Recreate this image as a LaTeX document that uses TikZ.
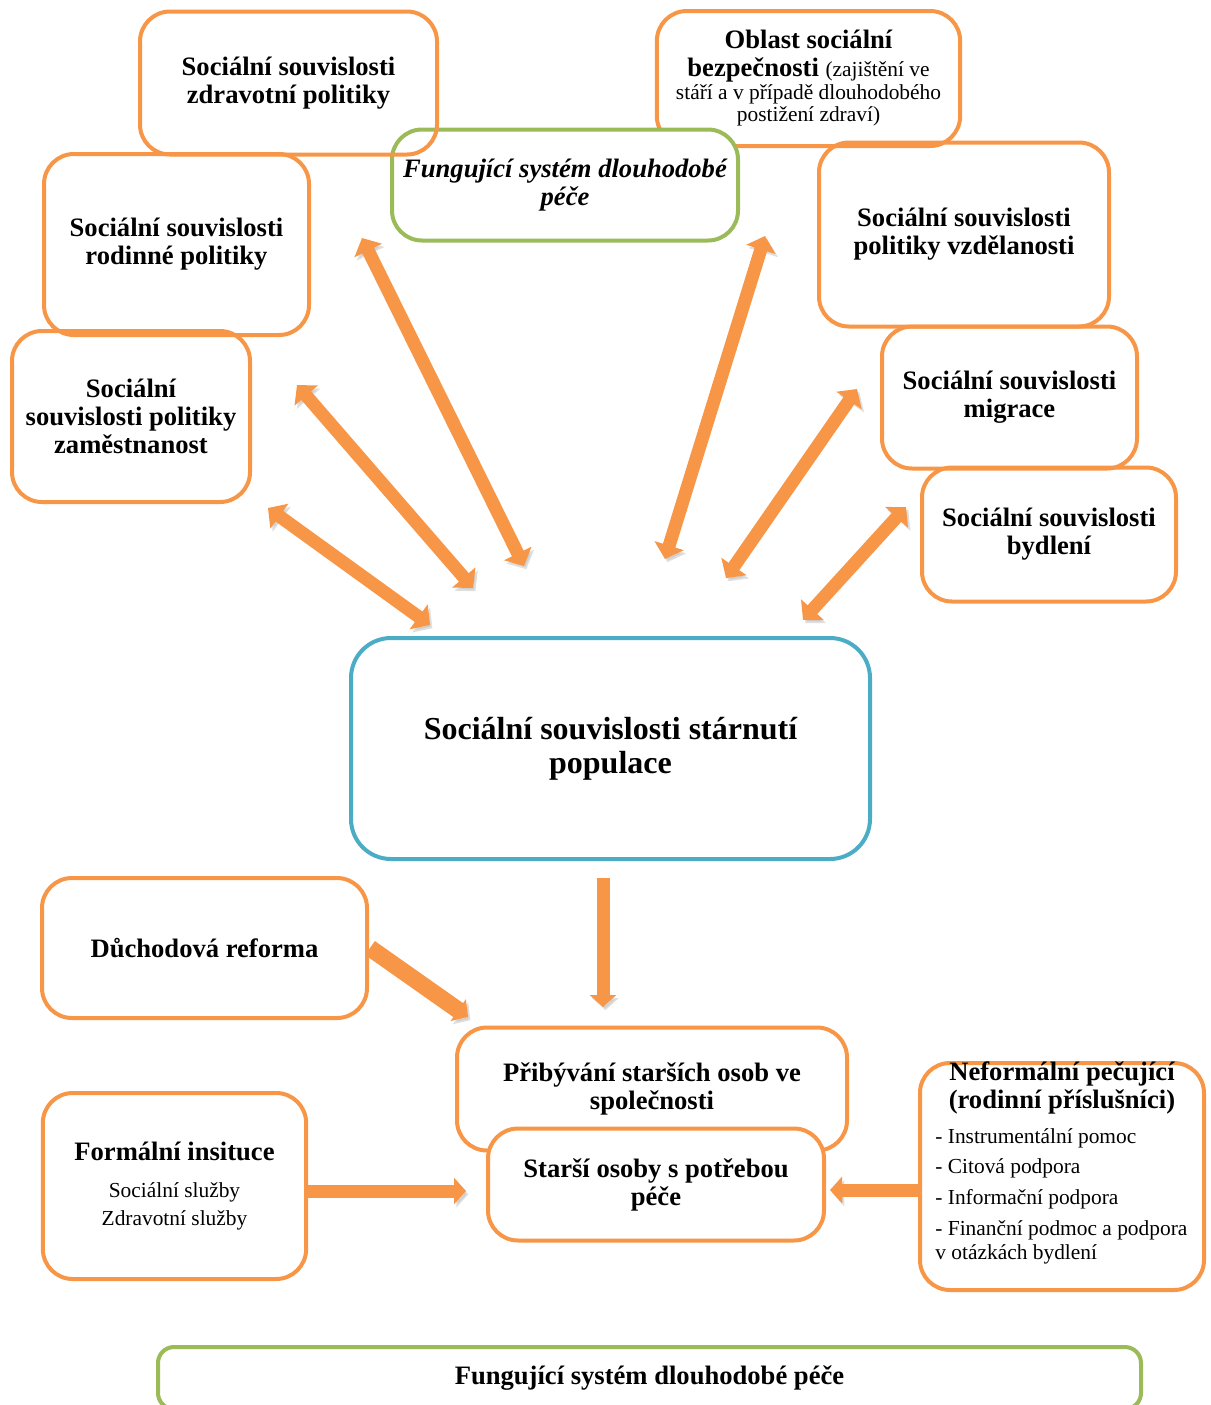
\documentclass[tikz,border=0pt]{standalone}
\usepackage{fontspec}
\setmainfont{Liberation Serif}
\usetikzlibrary{arrows.meta}
\definecolor{boxorange}{HTML}{F79646}
\definecolor{boxgreen}{HTML}{9BBB59}
\definecolor{boxblue}{HTML}{4BACC6}
\newcommand{\smallreg}{\fontsize{10.7}{11.5}\selectfont\mdseries}
\begin{document}
\begin{tikzpicture}[x=0.5pt, y=-0.5pt,
  box/.style={draw=boxorange, line width=2pt, rounded corners=15pt, align=flush center, font=\fontsize{13.3}{14}\selectfont\bfseries},
  gbox/.style={box, draw=boxgreen, fill=white},
  shd/.style={preaction={draw=black!25, opacity=.5, transform canvas={shift={(1.2pt,-1.6pt)}}}},
  dbl/.style={shd, draw=boxorange, line width=6.5pt, {Triangle[length=7pt,width=15pt]}-{Triangle[length=7pt,width=15pt]}},
  one/.style={shd, draw=boxorange, line width=6.5pt, -{Triangle[length=6pt,width=13pt]}}]
\useasboundingbox (0,0) rectangle (1211,1405);

\node[box, minimum width=151.5pt, minimum height=67.5pt, text width=145pt] (obl) at (808.5,78.5)
  {\lineskiplimit=-5pt Oblast sociální\\[2.5pt] bezpečnosti \smallreg(zajištění ve\\ stáří a v případě dlouhodobého\\[-3pt] postižení zdraví)};
\node[gbox, minimum width=173pt, minimum height=55.5pt, font=\fontsize{13.3}{14}\selectfont\bfseries\itshape] (fun) at (565,185) {Fungující systém dlouhodobé\\péče};
\node[box, minimum width=148.5pt, minimum height=71.5pt] (zdr) at (288.5,83) {Sociální souvislosti\\zdravotní politiky};
\node[box, minimum width=132.5pt, minimum height=90.5pt] (rod) at (176.5,244.5) {Sociální souvislosti\\rodinné politiky};
\node[box, minimum width=119pt, minimum height=85.5pt] (zam) at (131,416.5) {Sociální\\souvislosti politiky\\zaměstnanost};
\node[box, minimum width=145pt, minimum height=92pt] (vzd) at (964,234.5) {Sociální souvislosti\\politiky vzdělanosti};
\node[box, minimum width=127.5pt, minimum height=71pt] (mig) at (1009.5,397.5) {Sociální souvislosti\\migrace};
\node[box, minimum width=127pt, minimum height=67pt] (byd) at (1049,534.5) {Sociální souvislosti\\bydlení};

\node[box, draw=boxblue, rounded corners=20pt, minimum width=259.5pt, minimum height=110.5pt, font=\fontsize{16}{17}\selectfont\bfseries] (soc) at (610.5,748.5) {Sociální souvislosti stárnutí\\populace};

\node[box, minimum width=162.5pt, minimum height=70pt] (duch) at (204.5,948) {Důchodová reforma};
\node[box, minimum width=195pt, minimum height=61.5pt] (prib) at (652,1089) {Přibývání starších osob ve\\společnosti};
\node[box, fill=white, minimum width=168pt, minimum height=56pt] (star) at (656,1184.5) {Starší osoby s potřebou\\péče};
\node[box, minimum width=131.5pt, minimum height=93pt, text width=125pt] (form) at (174.5,1186)
  {Formální insituce\\[3pt] \fontsize{10.7}{15.5}\selectfont\mdseries Sociální služby\\ Zdravotní služby};
\node[box, minimum width=142pt, minimum height=113.5pt] (nef) at (1062,1176.5) {};
\node[align=flush center, font=\fontsize{13.3}{14}\selectfont\bfseries] (nefT) at (1062,1088) {Neformální pečující\\(rodinní příslušníci)};
\node[anchor=north west, inner sep=0pt, text width=136pt, align=flush left] (nefL) at (935,1128)
  {\fontsize{10.7}{11}\selectfont - Instrumentální pomoc\\[4pt] - Citová podpora\\[4.5pt] - Informační podpora\\[4.5pt] - Finanční podmoc a podpora\\ v otázkách bydlení};

\node[gbox, rounded corners=8pt, minimum width=491.5pt, minimum height=31pt] (sys) at (649.5,1378) {Fungující systém dlouhodobé péče};

\coordinate (z1) at (362,238);  \coordinate (c1) at (524,566);
\coordinate (z2) at (297,385);  \coordinate (c2) at (473,588);
\coordinate (z3) at (268,508);  \coordinate (c3) at (430,625);
\coordinate (v1) at (765,236);  \coordinate (c4) at (665,559);
\coordinate (v2) at (857,389);  \coordinate (c5) at (726,578);
\coordinate (v3) at (906,507);  \coordinate (c6) at (803,620);
\draw[dbl] (z1) -- (c1);
\draw[dbl] (z2) -- (c2);
\draw[dbl] (z3) -- (c3);
\draw[dbl] (v1) -- (c4);
\draw[dbl] (v2) -- (c5);
\draw[dbl] (v3) -- (c6);

\coordinate (d1) at (603,878);  \coordinate (d2) at (603,1007);
\coordinate (r1) at (370,948);  \coordinate (r2) at (468,1017);
\coordinate (f1) at (307,1191); \coordinate (f2) at (466,1191);
\coordinate (n1) at (920,1190); \coordinate (n2) at (830,1190);
\draw[one] (d1) -- (d2);
\draw[one, line width=8.5pt] (r1) -- (r2);
\draw[one] (f1) -- (f2);
\draw[one] (n1) -- (n2);
\end{tikzpicture}
\end{document}
